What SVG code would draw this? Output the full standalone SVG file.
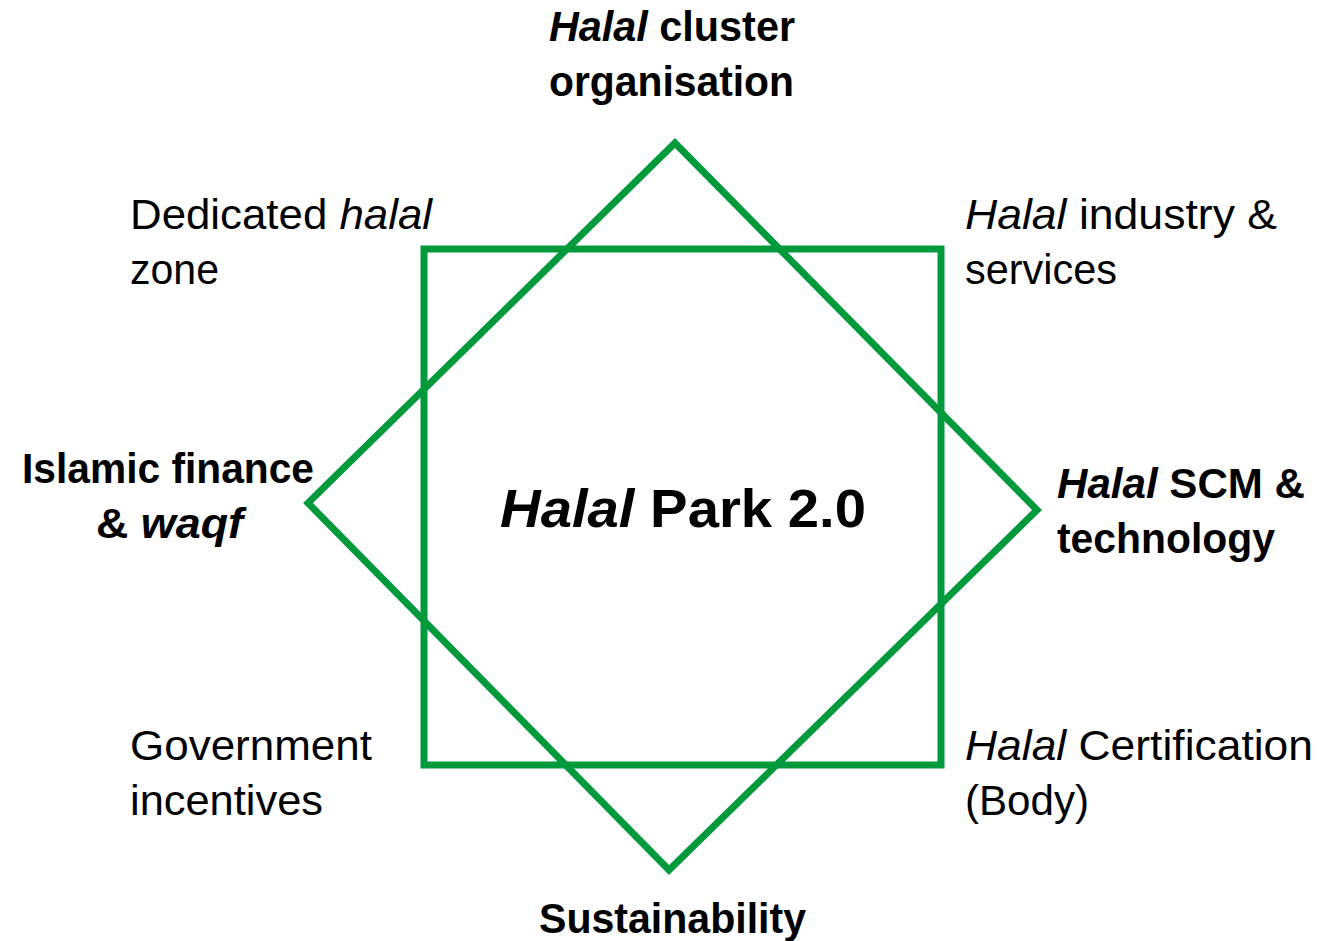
<svg xmlns="http://www.w3.org/2000/svg" width="1330" height="941" viewBox="0 0 1330 941">
<style>
.shape{fill:none;stroke:#009a3d;stroke-width:7;stroke-linejoin:miter;stroke-miterlimit:10}
text{font-family:"Liberation Sans",Arial,sans-serif;font-size:43px;fill:#000}
.b{font-weight:bold}
.i{font-style:italic}
.big{font-size:54px;font-weight:bold}
</style>
<rect width="1330" height="941" fill="#fff"/>
<g id="star">
<rect id="square" class="shape" x="424" y="249" width="517" height="516"/>
<polygon id="diamond" class="shape" points="675,143 1037,510 669,870 308,503"/>
</g>
<g id="connectors"/>
<g id="center">
<text class="big" x="500" y="527" textLength="366" lengthAdjust="spacingAndGlyphs"><tspan class="i">Halal</tspan> Park 2.0</text>
</g>
<g id="node-cluster">
<text class="b" x="549" y="41" textLength="246" lengthAdjust="spacingAndGlyphs"><tspan class="i">Halal</tspan> cluster</text>
<text class="b" x="549" y="96" textLength="245" lengthAdjust="spacingAndGlyphs">organisation</text>
</g>
<g id="node-zone">
<text x="130" y="229" textLength="302" lengthAdjust="spacingAndGlyphs">Dedicated <tspan class="i">halal</tspan></text>
<text x="130" y="284" textLength="89" lengthAdjust="spacingAndGlyphs">zone</text>
</g>
<g id="node-industry">
<text x="965" y="229" textLength="312" lengthAdjust="spacingAndGlyphs"><tspan class="i">Halal</tspan> industry &amp;</text>
<text x="965" y="284" textLength="152" lengthAdjust="spacingAndGlyphs">services</text>
</g>
<g id="node-finance">
<text class="b" x="22" y="483" textLength="292" lengthAdjust="spacingAndGlyphs">Islamic finance</text>
<text class="b" x="96" y="538" textLength="147" lengthAdjust="spacingAndGlyphs">&amp; <tspan class="i">waqf</tspan></text>
</g>
<g id="node-scm">
<text class="b" x="1057" y="498" textLength="248" lengthAdjust="spacingAndGlyphs"><tspan class="i">Halal</tspan> SCM &amp;</text>
<text class="b" x="1057" y="553" textLength="218" lengthAdjust="spacingAndGlyphs">technology</text>
</g>
<g id="node-government">
<text x="130" y="760" textLength="242" lengthAdjust="spacingAndGlyphs">Government</text>
<text x="130" y="815" textLength="193" lengthAdjust="spacingAndGlyphs">incentives</text>
</g>
<g id="node-certification">
<text x="965" y="760" textLength="348" lengthAdjust="spacingAndGlyphs"><tspan class="i">Halal</tspan> Certification</text>
<text x="965" y="815" textLength="124" lengthAdjust="spacingAndGlyphs">(Body)</text>
</g>
<g id="node-sustainability">
<text class="b" x="539" y="933" textLength="267" lengthAdjust="spacingAndGlyphs">Sustainability</text>
</g>
</svg>
